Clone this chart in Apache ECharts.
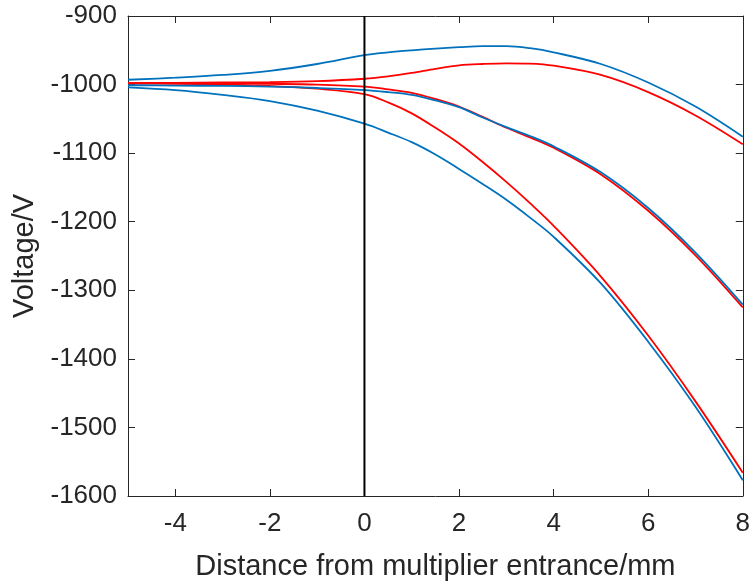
<!DOCTYPE html>
<html>
<head>
<meta charset="utf-8">
<script src="https://cdn.jsdelivr.net/npm/echarts@6/dist/echarts.min.js"></script>
<style>
  html, body { margin: 0; padding: 0; background: #ffffff; }
  #chart { width: 753px; height: 586px; }
</style>
</head>
<body>
<div id="chart"></div>
<script>
// Distance from the multiplier entrance (mm)
const distance = [-5, -4, -3, -2, -1, 0, 0.5, 1, 1.5, 2, 2.5, 3, 3.5, 4, 5, 6, 7, 8];

// Potential profiles (V), three pairs of curves
const blueUpper = [-993, -990, -986, -980, -970, -957, -953, -950, -947.5, -945.5, -944, -944, -947, -953, -970, -997, -1032, -1076];
const redUpper  = [-998, -997.5, -997, -996.5, -995, -991.5, -988, -983, -977, -972, -970, -969, -969.5, -972.5, -986, -1011, -1045, -1087];
const blueMid   = [-1001, -1001.5, -1002, -1003, -1005, -1008, -1011, -1015, -1023, -1033, -1048, -1062, -1075, -1090, -1128, -1180, -1245, -1321];
const redMid    = [-998, -998, -998.5, -999, -1000, -1003, -1007, -1012, -1021, -1032, -1047, -1063, -1077, -1092, -1131, -1184, -1249, -1325];
const blueLower = [-1004, -1008, -1015, -1024, -1038, -1057, -1070, -1084, -1102, -1123, -1145, -1168, -1194, -1222, -1290, -1375, -1470, -1577];
const redLower  = [-998.5, -999, -1000, -1002, -1006, -1014, -1026, -1042, -1063, -1086, -1113, -1142, -1173, -1206, -1280, -1366, -1462, -1566];

// Entrance marker at x = 0
const entranceX = [0, 0];
const entranceY = [-1600, -900];

// Axis ranges and tick labels
const xTicks = [-4, -2, 0, 2, 4, 6, 8];
const xMin = -5, xMax = 8;
const yMin = -1600, yMax = -900, yStep = 100;

const BLUE = '#0072BD';
const RED = '#FF0000';
const INK = '#262626';
const FONT = '"Liberation Sans", Arial, Helvetica, sans-serif';

function pairs(xs, ys) {
  return xs.map((x, i) => [x, ys[i]]);
}

function curve(name, ys, color) {
  return {
    name: name,
    type: 'line',
    data: pairs(distance, ys),
    smooth: 0.35,
    showSymbol: false,
    lineStyle: { color: color, width: 1.8 },
    itemStyle: { color: color },
    animation: false,
    z: 3
  };
}

const chart = echarts.init(document.getElementById('chart'), null, { renderer: 'canvas' });

const frameLine = { show: true, onZero: false, lineStyle: { color: INK, width: 1 } };

chart.setOption({
  backgroundColor: '#ffffff',
  animation: false,
  grid: { left: 128, right: 7, top: 16, bottom: 86, containLabel: false },
  xAxis: [
    {
      type: 'value', min: xMin, max: xMax, position: 'bottom',
      name: 'Distance from multiplier entrance/mm',
      nameLocation: 'middle', nameGap: 56,
      nameTextStyle: { fontFamily: FONT, fontSize: 29, color: INK },
      axisLine: frameLine,
      axisTick: { show: true, inside: true, length: 7, customValues: xTicks, lineStyle: { color: INK } },
      axisLabel: { show: true, customValues: xTicks, margin: 15, fontFamily: FONT, fontSize: 26, color: INK,
                   formatter: v => String(v) },
      splitLine: { show: false }
    },
    {
      type: 'value', min: xMin, max: xMax, position: 'top',
      axisLine: frameLine,
      axisTick: { show: true, inside: true, length: 7, customValues: xTicks, lineStyle: { color: INK } },
      axisLabel: { show: false },
      splitLine: { show: false }
    }
  ],
  yAxis: [
    {
      type: 'value', min: yMin, max: yMax, interval: yStep, position: 'left',
      name: 'Voltage/V',
      nameLocation: 'middle', nameGap: 70, nameRotate: 90,
      nameTextStyle: { fontFamily: FONT, fontSize: 29, color: INK },
      axisLine: frameLine,
      axisTick: { show: true, inside: true, length: 7, lineStyle: { color: INK } },
      axisLabel: { margin: 11, fontFamily: FONT, fontSize: 26, color: INK, formatter: v => String(v) },
      splitLine: { show: false }
    },
    {
      type: 'value', min: yMin, max: yMax, interval: yStep, position: 'right',
      axisLine: frameLine,
      axisTick: { show: true, inside: true, length: 7, lineStyle: { color: INK } },
      axisLabel: { show: false },
      splitLine: { show: false }
    }
  ],
  series: [
    curve('upper-blue', blueUpper, BLUE),
    curve('upper-red', redUpper, RED),
    curve('lower-blue', blueLower, BLUE),
    curve('lower-red', redLower, RED),
    curve('mid-red', redMid, RED),
    curve('mid-blue', blueMid, BLUE),
    {
      name: 'entrance',
      type: 'line',
      data: pairs(entranceX, entranceY),
      showSymbol: false,
      lineStyle: { color: '#000000', width: 2 },
      animation: false,
      z: 4
    }
  ]
});
</script>
</body>
</html>
